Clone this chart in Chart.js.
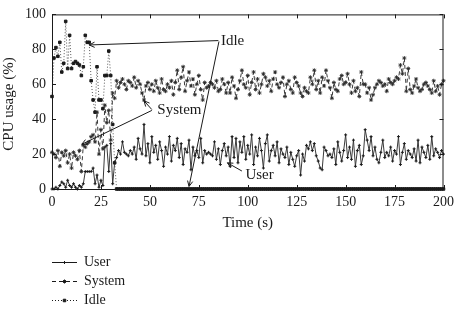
<!DOCTYPE html>
<html>
<head>
<meta charset="utf-8">
<script src="https://cdn.jsdelivr.net/npm/chart.js@4.4.1/dist/chart.umd.min.js"></script>
<style>
  html, body { margin: 0; padding: 0; background: #fff; }
  #cpu { display: block; }
</style>
</head>
<body>
<canvas id="cpu" width="459" height="312"></canvas>
<script>
// sampling: one reading per second, 0..200 s
const SAMPLE_STEP = 1;

const USER = [
    0, 0, 1, 0, 2, 4, 3, 1, 5, 2,
    1, 3, 1, 0, 2, 1, 3, 10, 10, 10,
    10, 12, 3, 8, 1, 5, 2, 24, 25, 10,
    26, 3, 15, 18, 22, 20, 27, 21, 20, 19,
    22, 20, 24, 17, 29, 23, 20, 37, 19, 26,
    15, 30, 21, 25, 17, 27, 22, 13, 24, 20,
    30, 16, 25, 22, 29, 18, 26, 14, 23, 21,
    28, 11, 24, 19, 22, 18, 29, 15, 22, 20,
    21, 20, 19, 27, 17, 23, 14, 22, 26, 19,
    24, 13, 30, 18, 29, 15, 27, 21, 30, 17,
    25, 20, 31, 14, 24, 19, 29, 22, 12, 26,
    31, 16, 22, 25, 19, 27, 15, 23, 20, 18,
    24, 14, 21, 17, 13, 19, 22, 8, 20, 16,
    25, 23, 27, 22, 26, 19, 16, 12, 11, 24,
    22, 19, 20, 18, 23, 14, 27, 21, 16, 22,
    31, 18, 24, 17, 28, 13, 22, 25, 14, 19,
    34, 28, 22, 30, 19, 24, 17, 15, 21, 28,
    18, 21, 19, 24, 16, 22, 20, 30, 14, 21,
    26, 17, 22, 20, 18, 23, 16, 28, 15, 24,
    21, 18, 25, 17, 30, 19, 23, 21, 18, 22,
    20
];

const SYSTEM = [
    21, 20, 18, 22, 13, 21, 19, 22, 15, 20,
    12, 21, 19, 17, 22, 10, 25, 24, 26, 27,
    30, 31, 27, 44, 20, 34, 23, 48, 38, 45,
    28, 55, 52, 62, 58, 61, 63, 60, 57, 62,
    61, 59, 64, 58, 62, 60, 55, 51, 59, 61,
    57, 60, 56, 62, 58, 55, 63, 57, 56, 60,
    58, 62, 54, 61, 68, 57, 64, 70, 56, 62,
    67, 59, 63, 54, 60, 65, 57, 51, 61, 58,
    59, 61, 60, 58, 62, 56, 57, 63, 60, 55,
    61, 55, 64, 59, 52, 57, 62, 68, 60, 58,
    65, 54, 61, 67, 57, 63, 55, 60, 66, 64,
    59, 62, 56, 63, 67, 60, 58, 61, 64, 53,
    60, 62, 57, 55, 64, 61, 59, 55, 53, 58,
    56, 55, 64, 60, 68, 57, 62, 55, 64, 59,
    68, 62, 58, 52, 61, 57, 56, 63, 65, 60,
    61, 66, 60, 55, 62, 56, 58, 53, 67, 60,
    60, 55, 58, 51, 54, 58, 60, 62, 61, 59,
    60, 56, 63, 61, 60, 62, 64, 63, 71, 66,
    75, 56, 69, 57, 55, 59, 63, 58, 56, 57,
    60, 61, 59, 57, 55, 62, 56, 59, 54, 60,
    62
];

const IDLE = [
    53, 75, 81, 76, 84, 67, 72, 96, 69, 88,
    69, 72, 73, 72, 71, 65, 70, 88, 84, 84,
    62, 51, 44, 70, 51, 51, 46, 65, 65, 79,
    65, 37, 15, 0, 0, 0, 0, 0, 0, 0,
    0, 0, 0, 0, 0, 0, 0, 0, 0, 0,
    0, 0, 0, 0, 0, 0, 0, 0, 0, 0,
    0, 0, 0, 0, 0, 0, 0, 0, 0, 0,
    0, 0, 0, 0, 0, 0, 0, 0, 0, 0,
    0, 0, 0, 0, 0, 0, 0, 0, 0, 0,
    0, 0, 0, 0, 0, 0, 0, 0, 0, 0,
    0, 0, 0, 0, 0, 0, 0, 0, 0, 0,
    0, 0, 0, 0, 0, 0, 0, 0, 0, 0,
    0, 0, 0, 0, 0, 0, 0, 0, 0, 0,
    0, 0, 0, 0, 0, 0, 0, 0, 0, 0,
    0, 0, 0, 0, 0, 0, 0, 0, 0, 0,
    0, 0, 0, 0, 0, 0, 0, 0, 0, 0,
    0, 0, 0, 0, 0, 0, 0, 0, 0, 0,
    0, 0, 0, 0, 0, 0, 0, 0, 0, 0,
    0, 0, 0, 0, 0, 0, 0, 0, 0, 0,
    0, 0, 0, 0, 0, 0, 0, 0, 0, 0,
    0
];

const X_TICKS = [0, 25, 50, 75, 100, 125, 150, 175, 200];
const Y_TICKS = [0, 20, 40, 60, 80, 100];

// callouts, in data units: label position + arrows (from -> tip)
const CALLOUTS = [
    { text: 'Idle',   at: [86.3, 85],   arrows: [[[85, 85], [19, 82.5]], [[85.3, 84.5], [70, 1.5]]] },
    { text: 'System', at: [53.8, 45],   arrows: [[[51, 45.5], [47, 50.5]], [[51, 45], [15.2, 25.6]]] },
    { text: 'User',   at: [98.8, 7.7],  arrows: [[[97, 10.3], [89.6, 15]]] },
];

const INK = '#1a1a1a';
const SERIF = '"Liberation Serif", "DejaVu Serif", serif';

const toPoints = vals => vals.map((v, i) => ({ x: i * SAMPLE_STEP, y: v }));

function arrowHead(ctx, x0, y0, x1, y1) {
    const a = Math.atan2(y1 - y0, x1 - x0);
    const len = 6, spread = 0.45;
    ctx.beginPath();
    ctx.moveTo(x1 - len * Math.cos(a - spread), y1 - len * Math.sin(a - spread));
    ctx.lineTo(x1, y1);
    ctx.lineTo(x1 - len * Math.cos(a + spread), y1 - len * Math.sin(a + spread));
    ctx.stroke();
}

const frameAndExtras = {
    id: 'frameAndExtras',
    afterDraw(chart) {
        const { ctx, chartArea: a, scales: { x, y } } = chart;
        ctx.save();
        ctx.strokeStyle = INK;
        ctx.fillStyle = INK;
        ctx.lineWidth = 1;
        ctx.setLineDash([]);

        // box + inward ticks
        ctx.strokeRect(a.left + 0.5, a.top + 0.5, a.right - a.left - 1, a.bottom - a.top);
        ctx.beginPath();
        X_TICKS.forEach(t => {
            const px = Math.round(x.getPixelForValue(t)) + 0.5;
            ctx.moveTo(px, a.bottom); ctx.lineTo(px, a.bottom - 4);
            ctx.moveTo(px, a.top); ctx.lineTo(px, a.top + 4);
        });
        Y_TICKS.forEach(v => {
            const py = Math.round(y.getPixelForValue(v)) + 0.5;
            ctx.moveTo(a.left, py); ctx.lineTo(a.left + 4, py);
            ctx.moveTo(a.right, py); ctx.lineTo(a.right - 4, py);
        });
        ctx.stroke();

        // axis titles
        ctx.font = '15px ' + SERIF;
        ctx.textAlign = 'center';
        ctx.textBaseline = 'middle';
        ctx.fillText('Time (s)', (a.left + a.right) / 2, 223);
        ctx.save();
        ctx.translate(9, 104);
        ctx.rotate(-Math.PI / 2);
        ctx.fillText('CPU usage (%)', 0, 0);
        ctx.restore();

        // callouts
        ctx.lineWidth = 1;
        CALLOUTS.forEach(c => {
            ctx.textAlign = 'left';
            ctx.fillText(c.text, x.getPixelForValue(c.at[0]), y.getPixelForValue(c.at[1]));
            c.arrows.forEach(([from, tip]) => {
                const x0 = x.getPixelForValue(from[0]), y0 = y.getPixelForValue(from[1]);
                const x1 = x.getPixelForValue(tip[0]), y1 = y.getPixelForValue(tip[1]);
                ctx.beginPath();
                ctx.moveTo(x0, y0);
                ctx.lineTo(x1, y1);
                ctx.stroke();
                arrowHead(ctx, x0, y0, x1, y1);
            });
        });

        // legend under the plot
        ctx.font = '14px ' + SERIF;
        chart.data.datasets.forEach((ds, i) => {
            const ly = 262.5 + i * 19;
            ctx.strokeStyle = INK;
            ctx.lineWidth = 1;
            ctx.setLineDash(ds.borderDash || []);
            ctx.beginPath();
            ctx.moveTo(52, ly);
            ctx.lineTo(77, ly);
            ctx.stroke();
            ctx.setLineDash([]);
            ctx.fillStyle = INK;
            Chart.helpers.drawPoint(ctx, {
                pointStyle: ds.pointStyle, radius: ds.pointRadius,
                borderWidth: 1, rotation: 0,
            }, 64.5, ly);
            ctx.textAlign = 'left';
            ctx.fillText(ds.label, 84, ly);
        });
        ctx.restore();
    },
};

new Chart(document.getElementById('cpu'), {
    type: 'line',
    data: {
        datasets: [
            {
                label: 'User',
                data: toPoints(USER),
                borderColor: '#3a3a3a',
                borderWidth: 1,
                pointStyle: 'cross',
                pointRadius: 1.5,
                pointBorderColor: INK,
                pointBorderWidth: 1,
                pointBackgroundColor: INK,
                clip: false,
            },
            {
                label: 'System',
                data: toPoints(SYSTEM),
                borderColor: '#3a3a3a',
                borderWidth: 1,
                borderDash: [4, 3],
                pointStyle: 'star',
                pointRadius: 2,
                pointBorderColor: '#2a2a2a',
                pointBorderWidth: 0.9,
                pointBackgroundColor: INK,
                clip: false,
            },
            {
                label: 'Idle',
                data: toPoints(IDLE),
                borderColor: '#555',
                borderWidth: 1,
                borderDash: [1, 2],
                pointStyle: 'rect',
                pointRadius: 1.8,
                pointBorderColor: INK,
                pointBorderWidth: 1,
                pointBackgroundColor: INK,
                clip: false,
            },
        ],
    },
    options: {
        responsive: false,
        animation: false,
        devicePixelRatio: 1,
        layout: { padding: { top: 9, right: 13, left: 0, bottom: 0 } },
        plugins: {
            legend: { display: false },
            tooltip: { enabled: false },
        },
        elements: { line: { tension: 0 } },
        scales: {
            x: {
                type: 'linear',
                min: 0,
                max: 200,
                afterBuildTicks: s => { s.ticks = X_TICKS.map(v => ({ value: v })); },
                afterFit: s => { s.height = 123; },
                grid: { display: false, drawTicks: false },
                border: { display: false },
                ticks: { color: INK, padding: 5, maxRotation: 0, font: { family: SERIF, size: 14 } },
            },
            y: {
                min: 0,
                max: 100,
                afterBuildTicks: s => { s.ticks = Y_TICKS.map(v => ({ value: v })); },
                afterFit: s => { s.width = 52; },
                grid: { display: false, drawTicks: false },
                border: { display: false },
                ticks: { color: INK, padding: 6, font: { family: SERIF, size: 14 } },
            },
        },
    },
    plugins: [frameAndExtras],
});
</script>
</body>
</html>
